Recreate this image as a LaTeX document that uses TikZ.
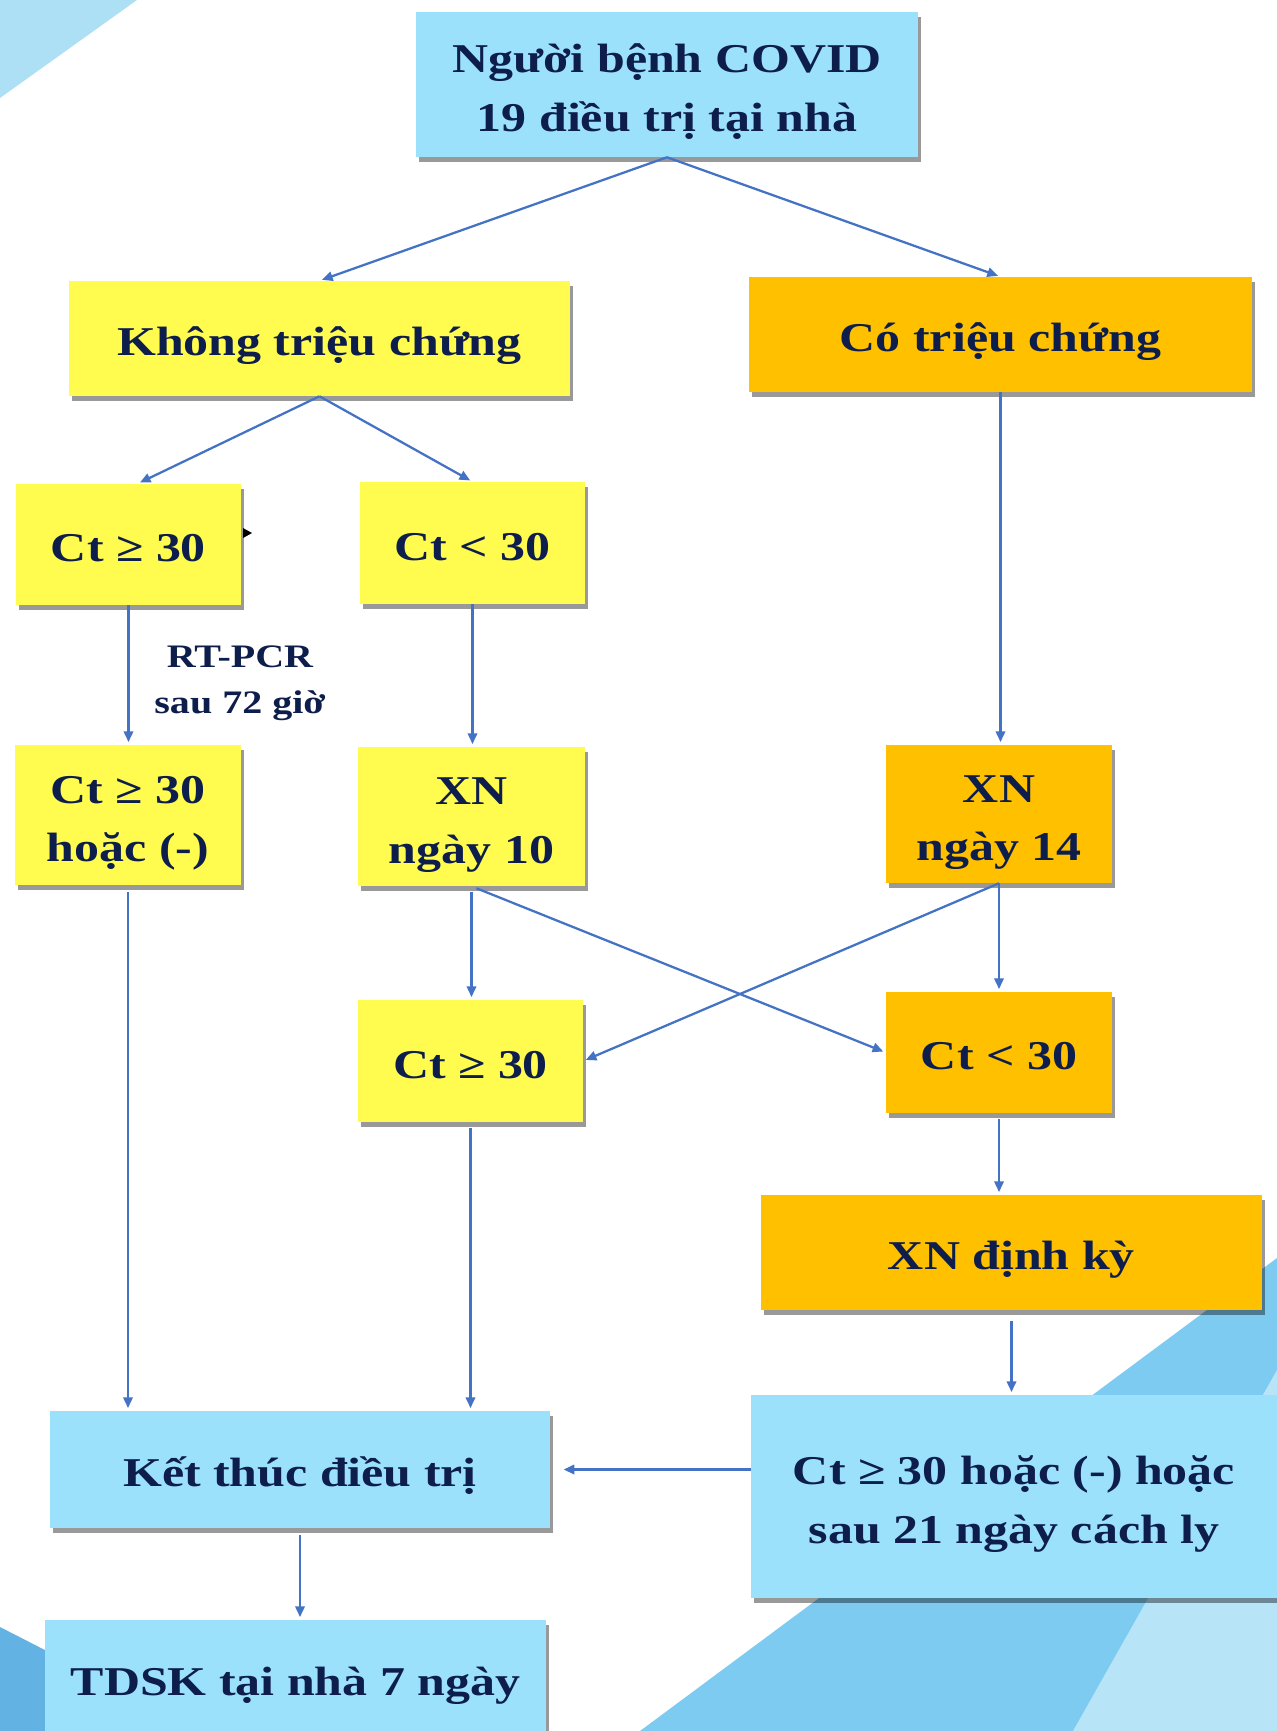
\documentclass[tikz,border=0pt]{standalone}
\usepackage{fontspec}
\setmainfont{Liberation Serif}[FakeStretch=1.22]
\usetikzlibrary{arrows.meta,shadows,calc}
\definecolor{txt}{HTML}{0E1E4C}
\definecolor{lblue}{HTML}{9CE1FB}
\definecolor{yel}{HTML}{FFFC4F}
\definecolor{org}{HTML}{FFC000}
\definecolor{arrblue}{HTML}{4472C4}
\definecolor{bgA}{HTML}{AEE0F5}
\definecolor{bgB}{HTML}{7DCBF0}
\definecolor{bgC}{HTML}{B7E4F7}
\definecolor{bgD}{HTML}{62B3E3}
\begin{document}
\begin{tikzpicture}[x=0.75pt,y=-0.75pt,
 box/.style={inner sep=0pt, align=center, text=txt,
   font=\bfseries\fontsize{30.7}{44}\selectfont,
   drop shadow={shadow xshift=2.5pt,shadow yshift=-3.5pt,fill=black,opacity=0.4}},
 one/.style={text height=33pt, text depth=7pt},
 two/.style={text height=77pt, text depth=7pt},
 bl/.style={box, fill=lblue},
 yb/.style={box, fill=yel},
 ob/.style={box, fill=org},
 arr/.style={draw=arrblue, line width=1.7pt, -{Triangle[length=8pt,width=7pt]}, shorten >=2pt}]
\useasboundingbox (0,0) rectangle (1277,1731);
\fill[white] (0,0) rectangle (1277,1731);
\fill[bgA] (0,0) -- (137,0) -- (0,98) -- cycle;
\fill[bgB] (1277,1258) -- (1277,1731) -- (640,1731) -- cycle;
\fill[bgC] (1277,1370) -- (1277,1731) -- (1073,1731) -- cycle;
\fill[bgD] (0,1627) -- (203,1731) -- (0,1731) -- cycle;

\node[bl, two, minimum width=376.5pt, minimum height=108.75pt] (top) at (667,84.5) {Người bệnh COVID\\19 điều trị tại nhà};
\node[yb, one, minimum width=375.75pt, minimum height=86.25pt] (khong) at (319.5,338.5) {Không triệu chứng};
\node[ob, one, minimum width=377.25pt, minimum height=86.25pt] (co) at (1000.5,334.5) {Có triệu chứng};
\node[yb, one, minimum width=168.75pt, minimum height=90.75pt] (ctl) at (128.5,544.5) {Ct ≥ 30};
\node[yb, one, minimum width=168.75pt, minimum height=91.5pt] (ctlt) at (472.5,543) {Ct < 30};
\node[yb, two, minimum width=169.5pt, minimum height=105pt] (hoac) at (128,815) {Ct ≥ 30\\hoặc (-)};
\node[yb, two, minimum width=170.25pt, minimum height=104.25pt] (xn10) at (471.5,816.5) {XN\\ngày 10};
\node[ob, two, minimum width=169.5pt, minimum height=103.5pt] (xn14) at (999,814) {XN\\ngày 14};
\node[yb, one, minimum width=168.75pt, minimum height=91.5pt] (ctm) at (470.5,1061) {Ct ≥ 30};
\node[ob, one, minimum width=169.5pt, minimum height=90.75pt] (ctr) at (999,1052.5) {Ct < 30};
\node[ob, one, minimum width=375.75pt, minimum height=86.25pt] (xndk) at (1011.5,1252.5) {XN định kỳ};
\node[bl, two, minimum width=394.5pt, minimum height=152.25pt] (fin) at (1014,1496.5) {Ct ≥ 30 hoặc (-) hoặc\\sau 21 ngày cách ly};
\node[bl, one, minimum width=375pt, minimum height=87.75pt] (ket) at (300,1469.5) {Kết thúc điều trị};
\node[bl, one, minimum width=375.75pt, minimum height=87pt] (tdsk) at (295.5,1678) {TDSK tại nhà 7 ngày};

\node[text=txt, align=center, inner sep=0pt, font=\bfseries\fontsize{24.6}{34.5}\selectfont] (lbl) at (240,683) {RT-PCR\\sau 72 giờ};
\fill[black] (243,528) -- (252,533) -- (243,538) -- cycle;

\draw[arr] (top.south) -- (khong.north);
\draw[arr] (top.south) -- (co.north);
\draw[arr] (khong.south) -- ($(ctl.north)+(9,0)$);
\draw[arr] (khong.south) -- (ctlt.north);
\draw[arr] (ctl.south) -- (ctl.south |- hoac.north);
\draw[arr] (ctlt.south) -- (ctlt.south |- xn10.north);
\draw[arr] (co.south) -- (co.south |- xn14.north);
\draw[arr, shorten <=5pt] (hoac.south) -- (hoac.south |- ket.north);
\draw[arr, shorten <=4pt] (xn10.south) -- (xn10.south |- ctm.north);
\draw[arr, shorten <=4pt] (xn10.south) -- (ctr.west);
\draw[arr] (xn14.south) -- (ctm.east);
\draw[arr] (xn14.south) -- (xn14.south |- ctr.north);
\draw[arr, shorten <=4pt] (ctr.south) -- (ctr.south |- xndk.north);
\draw[arr, shorten <=4pt] (ctm.south) -- (ctm.south |- ket.north);
\draw[arr, shorten <=8pt] (xndk.south) -- (xndk.south |- fin.north);
\draw[arr, shorten >=10pt] (ket.east -| fin.west) -- (ket.east);
\draw[arr, shorten <=5pt] (ket.south) -- (ket.south |- tdsk.north);
\end{tikzpicture}
\end{document}
